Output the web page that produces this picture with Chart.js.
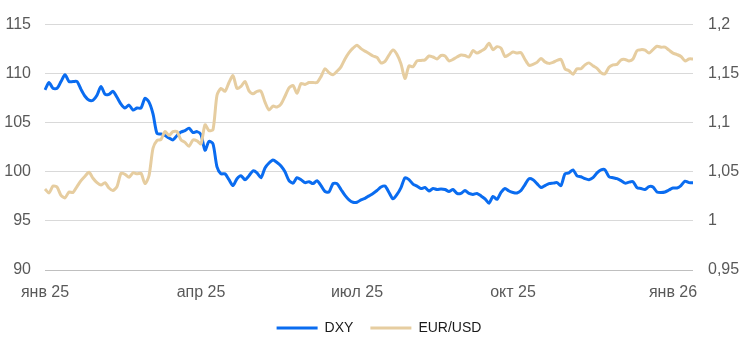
<!DOCTYPE html>
<html>
<head>
<meta charset="utf-8">
<script src="https://cdn.jsdelivr.net/npm/chart.js@4.4.1/dist/chart.umd.min.js"></script>
<style>
  html, body { margin: 0; padding: 0; background: #fff; }
  #wrap { width: 746px; height: 355px; }
</style>
</head>
<body>
<div id="wrap"><canvas id="myChart"></canvas></div>
<script>
// tick labels on the x axis and the point each one sits on
const tickLabels = ['янв 25', 'апр 25', 'июл 25', 'окт 25', 'янв 26'];
const tickPoints = [0, 39, 78, 117, 157];

// DXY index, left axis
const dxy = [
  108.35, 109.1, 108.5, 108.5, 109.2, 109.9, 109.2, 109.2, 109.2, 108.4,
  107.7, 107.3, 107.3, 107.8, 108.7, 107.9, 107.9, 108.2, 107.6, 106.9,
  106.5, 106.8, 106.3, 106.5, 106.5, 107.5, 107.1, 105.9, 103.9, 103.85,
  103.7, 103.45, 103.25, 103.7, 104.05, 104.2, 104.45, 104.0, 104.1, 103.8,
  102.2, 103.1, 102.85, 100.5, 99.8, 99.8, 99.2, 98.6, 99.3, 99.6,
  99.2, 99.6, 100.1, 99.9, 99.4, 100.4, 100.9, 101.2, 100.95, 100.6,
  100.0, 99.1, 98.85, 99.4, 99.2, 98.9, 99.0, 98.8, 99.1, 98.6,
  98.0, 97.95, 98.8, 98.8, 98.2, 97.6, 97.15, 96.9, 96.9, 97.15,
  97.3, 97.55, 97.8, 98.1, 98.45, 98.55, 97.9, 97.25, 97.7, 98.4,
  99.4, 99.2, 98.75, 98.55, 98.3, 98.4, 98.05, 98.3, 98.2, 98.25,
  98.2, 98.0, 98.2, 97.8, 97.8, 98.1, 97.8, 97.7, 97.8, 97.55,
  97.25, 96.8, 97.5, 97.2, 97.9, 98.3, 98.05, 97.9, 97.85, 98.1,
  98.7, 99.3, 99.2, 98.8, 98.4, 98.6, 98.8, 98.85, 98.9, 98.6,
  99.8, 99.9, 100.2, 99.6, 99.5, 99.3, 99.2, 99.4, 99.9, 100.2,
  100.2, 99.5, 99.4, 99.3, 99.1, 98.85, 98.95, 99.0, 98.4, 98.3,
  98.2, 98.5, 98.45, 97.95, 97.9, 97.95, 98.15, 98.35, 98.35, 98.6,
  99.05, 98.9, 98.9
];

// EUR/USD, right axis
const eurUsd = [
  1.0325, 1.0285, 1.0355, 1.0345, 1.026, 1.0235, 1.0295, 1.029, 1.035, 1.041,
  1.0455, 1.0495, 1.0435, 1.039, 1.0365, 1.039, 1.0335, 1.031, 1.035, 1.0485,
  1.0475, 1.0445, 1.049, 1.048, 1.0485, 1.038, 1.046, 1.074, 1.082, 1.083,
  1.091, 1.087, 1.091, 1.091, 1.0825, 1.08, 1.076, 1.0825, 1.0815, 1.0785,
  1.098, 1.092, 1.093, 1.128, 1.135, 1.132, 1.141, 1.148, 1.135, 1.137,
  1.142, 1.1325, 1.1295, 1.132, 1.132, 1.121, 1.113, 1.117, 1.116, 1.119,
  1.127, 1.1355, 1.138, 1.13, 1.14, 1.139, 1.141, 1.141, 1.141, 1.147,
  1.155, 1.151, 1.149, 1.1525, 1.157, 1.165, 1.1715, 1.176, 1.179, 1.1755,
  1.173, 1.1705, 1.168, 1.1665, 1.161, 1.1625, 1.169, 1.174, 1.1695, 1.16,
  1.145, 1.158, 1.157, 1.163, 1.1635, 1.164, 1.168, 1.167, 1.165, 1.1685,
  1.168, 1.163, 1.1645, 1.167, 1.169, 1.1685, 1.167, 1.1735, 1.171, 1.173,
  1.1755, 1.181, 1.1745, 1.1775, 1.176, 1.1675, 1.1695, 1.172, 1.171, 1.1715,
  1.1645, 1.1585, 1.1595, 1.1615, 1.1655, 1.162, 1.1605, 1.1615, 1.1635, 1.1645,
  1.155, 1.153, 1.1495, 1.155, 1.155, 1.159, 1.161, 1.158, 1.1555, 1.151,
  1.15, 1.1565, 1.159, 1.1595, 1.164, 1.1645, 1.163, 1.165, 1.1735, 1.1745,
  1.174, 1.171, 1.1745, 1.178, 1.177, 1.177, 1.174, 1.171, 1.1695, 1.1675,
  1.163, 1.165, 1.165
];

const categories = dxy.map((v, i) => {
  const k = tickPoints.indexOf(i);
  return k >= 0 ? tickLabels[k] : '';
});

const fontFamily = '"Liberation Sans", Arial, sans-serif';
const axisFont = { family: fontFamily, size: 16 };
const axisColor = '#595959';

// legend sits a few px right of centre in the original
const legendShift = {
  id: 'legendShift',
  afterLayout(chart) {
    if (chart.legend) {
      chart.legend.left += 6;
      chart.legend.right += 6;
    }
  }
};

const ctx = document.getElementById('myChart').getContext('2d');
new Chart(ctx, {
  type: 'line',
  data: {
    labels: categories,
    datasets: [
      {
        label: 'DXY',
        data: dxy,
        yAxisID: 'y',
        order: 1,
        borderColor: '#0a6cf0',
        backgroundColor: '#0a6cf0',
        borderWidth: 3,
        pointRadius: 0,
        tension: 0.25
      },
      {
        label: 'EUR/USD',
        data: eurUsd,
        yAxisID: 'y1',
        order: 0,
        borderColor: '#e6cda0',
        backgroundColor: '#e6cda0',
        borderWidth: 3,
        pointRadius: 0,
        tension: 0.25
      }
    ]
  },
  plugins: [legendShift],
  options: {
    responsive: true,
    maintainAspectRatio: false,
    animation: false,
    layout: { padding: { left: 0, right: 0, top: 22, bottom: 10 } },
    plugins: {
      tooltip: { enabled: false },
      legend: {
        position: 'bottom',
        labels: {
          boxWidth: 41,
          boxHeight: 3,
          padding: 17,
          color: '#1a1a1a',
          font: { family: fontFamily, size: 14 },
          sort: (a, b) => a.datasetIndex - b.datasetIndex,
          generateLabels: (chart) => {
            const items = Chart.defaults.plugins.legend.labels.generateLabels(chart);
            items.forEach(it => { it.lineWidth = 0; });
            return items;
          }
        }
      }
    },
    scales: {
      x: {
        type: 'category',
        offset: false,
        grid: { display: false, drawTicks: false },
        border: { display: false },
        ticks: {
          autoSkip: false,
          maxRotation: 0,
          padding: 13,
          color: axisColor,
          font: axisFont
        },
        afterFit: (s) => { s.paddingLeft = 0; s.paddingRight = 0; s.height = 34; }
      },
      y: {
        position: 'left',
        min: 90,
        max: 115,
        border: { display: false },
        grid: {
          color: (c) => c.tick && c.tick.value === 90 ? '#bfbfbf' : '#d9d9d9',
          drawTicks: false
        },
        ticks: { stepSize: 5, padding: 14, color: axisColor, font: axisFont },
        afterFit: (s) => { s.width = 45; }
      },
      y1: {
        position: 'right',
        min: 0.95,
        max: 1.2,
        border: { display: false },
        grid: { display: false, drawTicks: false },
        ticks: {
          stepSize: 0.05,
          padding: 15,
          color: axisColor,
          font: axisFont,
          callback: (v) => String(Math.round(v * 100) / 100).replace('.', ',')
        },
        afterFit: (s) => { s.width = 53; }
      }
    }
  }
});
</script>
</body>
</html>
